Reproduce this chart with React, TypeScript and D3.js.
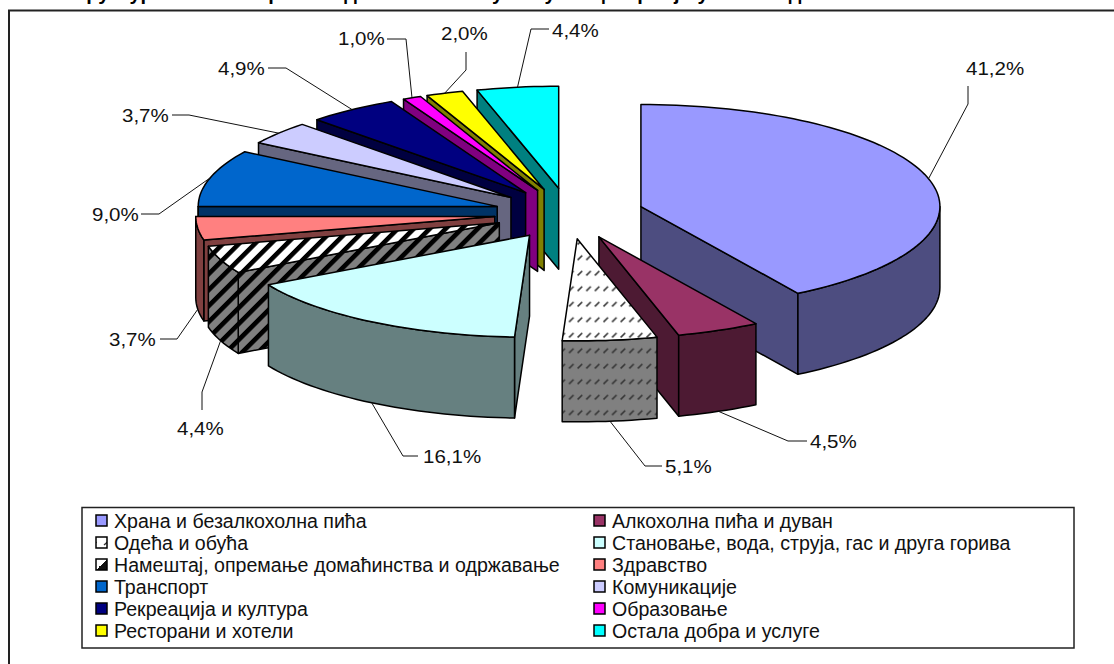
import React from "react";
import * as d3 from "d3";

const categories = [
  "Храна и безалкохолна пића",
  "Алкохолна пића и дуван",
  "Одећа и обућа",
  "Становање, вода, струја, гас и друга горива",
  "Намештај, опремање домаћинства и одржавање",
  "Здравство",
  "Транспорт",
  "Комуникације",
  "Рекреација и култура",
  "Образовање",
  "Ресторани и хотели",
  "Остала добра и услуге",
];
const values = [41.2, 4.5, 5.1, 16.1, 4.4, 3.7, 9.0, 3.7, 4.9, 1.0, 2.0, 4.4];
const topFills = ["#9999FF", "#993366", "url(#dashTop)", "#CCFFFF", "url(#stripeTop)", "#FF8080", "#0066CC", "#CCCCFF", "#000080", "#FF00FF", "#FFFF00", "#00FFFF"];
const sideFills = ["#4D4D80", "#4D1A33", "url(#dashSide)", "#668080", "url(#stripeSide)", "#804040", "#003366", "#666680", "#000040", "#800080", "#808000", "#008080"];
const swatchFills = ["#9999FF", "#993366", "url(#dashSwatch)", "#CCFFFF", "url(#stripeSwatch)", "#FF8080", "#0066CC", "#CCCCFF", "#000080", "#FF00FF", "#FFFF00", "#00FFFF"];
const titleText = "Структура личне потрошње домаћинстава у Републици Србији у 2011. години";

const W = 1114, H = 664;
const cx = 569, cy = 213.5, rx = 299, ry = 102, depth = 81, explode = 0.25;
const drawOrder = [0, 1, 2, 11, 10, 9, 8, 7, 6, 5, 4, 3];

// label text start x, baseline y, and leader elbows [from, elbow]
const labelLayout: [number, number, [number, number], [number, number]][] = [
  [966, 75, [968, 86], [968, 104]],
  [810, 448, [807, 441], [788, 441]],
  [665, 473, [662, 466], [645, 466]],
  [423, 463, [418, 456], [403, 456]],
  [177, 435, [202, 410], [202, 392]],
  [109, 346, [160, 339], [177, 339]],
  [92, 221, [141, 214], [159, 214]],
  [122, 122, [172, 115], [189, 115]],
  [218, 75, [268, 68], [286, 68]],
  [338, 45, [387, 39], [406, 39]],
  [441, 40, [466, 52], [466, 70]],
  [552, 37, [549, 29], [531, 29]],
];

const pie = d3.pie<number>().sort(null).value((d) => d).startAngle(0).endAngle(2 * Math.PI);
const arcs = pie(values);

const onDisc = (a: number, r: number): [number, number] => [r * rx * Math.sin(a), -r * ry * Math.cos(a)];

function buildSlice(i: number) {
  const { startAngle: a0, endAngle: a1 } = arcs[i];
  const mid = (a0 + a1) / 2;
  const [ox, oy] = onDisc(mid, explode);
  const apex: [number, number] = [cx + ox, cy + oy];
  const at = (a: number, dz = 0): [number, number] => {
    const [x, y] = onDisc(a, 1);
    return [apex[0] + x, apex[1] + y + dz];
  };
  const rim = (from: number, to: number, dz = 0) => {
    const n = Math.max(2, Math.ceil(Math.abs(to - from) / 0.03));
    return d3.range(n + 1).map((k) => at(from + ((to - from) * k) / n, dz));
  };
  const line = d3.line();
  const top = line([apex, ...rim(a0, a1)])! + "Z";
  const faces: string[] = [];
  if (Math.sin(a0) < -1e-6) faces.push(line([apex, at(a0), at(a0, depth), [apex[0], apex[1] + depth]])! + "Z");
  if (Math.sin(a1) > 1e-6) faces.push(line([apex, at(a1), at(a1, depth), [apex[0], apex[1] + depth]])! + "Z");
  const f0 = Math.max(a0, Math.PI / 2), f1 = Math.min(a1, (3 * Math.PI) / 2);
  if (f1 > f0) faces.push(line([...rim(f0, f1), ...rim(f1, f0, depth)])! + "Z");
  const front = Math.cos(mid) < 0;
  const anchor = at(mid, front ? depth : 0);
  return { top, faces, anchor };
}
const slices = values.map((_, i) => buildSlice(i));
const fmt = (v: number) => v.toFixed(1).replace(".", ",") + "%";
const font = "'Liberation Sans', Arial, sans-serif";
const legendRow = d3.scaleLinear().domain([0, 5]).range([521, 631]);

export default function App() {
  return (
    <svg width={W} height={H} viewBox={`0 0 ${W} ${H}`} style={{ position: "absolute", left: 0, top: 0, display: "block", background: "#fff" }} fontFamily={font}>
      <defs>
        {[["dashTop", "#fff"], ["dashSide", "#808080"]].map(([id, bg]) => (
          <pattern key={id} id={id} width={8.6} height={15.5} patternUnits="userSpaceOnUse">
            <rect width={8.6} height={15.5} fill={bg} />
            <path d="M1.5 12 L6 7.5" stroke="#333" strokeWidth={1.6} />
          </pattern>
        ))}
        {[["stripeTop", "#fff"], ["stripeSide", "#808080"]].map(([id, bg]) => (
          <pattern key={id} id={id} width={11.3} height={11.3} patternUnits="userSpaceOnUse" patternTransform="rotate(-45)">
            <rect width={11.3} height={11.3} fill={bg} />
            <rect width={11.3} height={4.6} fill="#000" />
          </pattern>
        ))}
        <linearGradient id="stripeSwatch" x1="0" y1="0" x2="1" y2="1">
          <stop offset="0.5" stopColor="#fff" />
          <stop offset="0.5" stopColor="#111" />
        </linearGradient>
        <pattern id="dashSwatch" width={11} height={11} patternUnits="userSpaceOnUse">
          <rect width={11} height={11} fill="#fff" />
          <path d="M5 6 L8.5 3" stroke="#333" strokeWidth={1.4} />
        </pattern>
      </defs>

      <text x={62} y={0} fontSize={20} fontWeight="bold" fill="#000">{titleText}</text>

      <path d={`M9 ${H} V10.5 H${W}`} fill="none" stroke="#222" strokeWidth={2} />

      <g stroke="#000" strokeWidth={1.5} strokeLinejoin="round">
        {drawOrder.map((i) => (
          <g key={categories[i]}>
            {slices[i].faces.map((d, k) => (
              <path key={k} d={d} fill={sideFills[i]} />
            ))}
            <path d={slices[i].top} fill={topFills[i]} />
          </g>
        ))}
      </g>

      <g fill="none" stroke="#111" strokeWidth={1}>
        {labelLayout.map(([, , p, q], i) => (
          <polyline key={i} points={[p, q, slices[i].anchor].map((c) => c.join(",")).join(" ")} />
        ))}
      </g>
      <g fontSize={19} fill="#111">
        {labelLayout.map(([x, y], i) => (
          <text key={i} transform={`translate(${x},${y}) scale(1.08,1)`}>{fmt(values[i])}</text>
        ))}
      </g>

      <rect x={82} y={507.5} width={992} height={140.5} fill="#fff" stroke="#222" strokeWidth={1.5} />
      <g fontSize={19.6} fill="#111">
        {categories.map((c, i) => {
          const col = i % 2;
          const y = legendRow(Math.floor(i / 2));
          const sx = col ? 594 : 96;
          return (
            <g key={c}>
              <rect x={sx} y={y - 6} width={11} height={11} fill={swatchFills[i]} stroke="#000" strokeWidth={1.5} />
              <text x={col ? 612 : 114} y={y + 6.5}>{c}</text>
            </g>
          );
        })}
      </g>
    </svg>
  );
}
